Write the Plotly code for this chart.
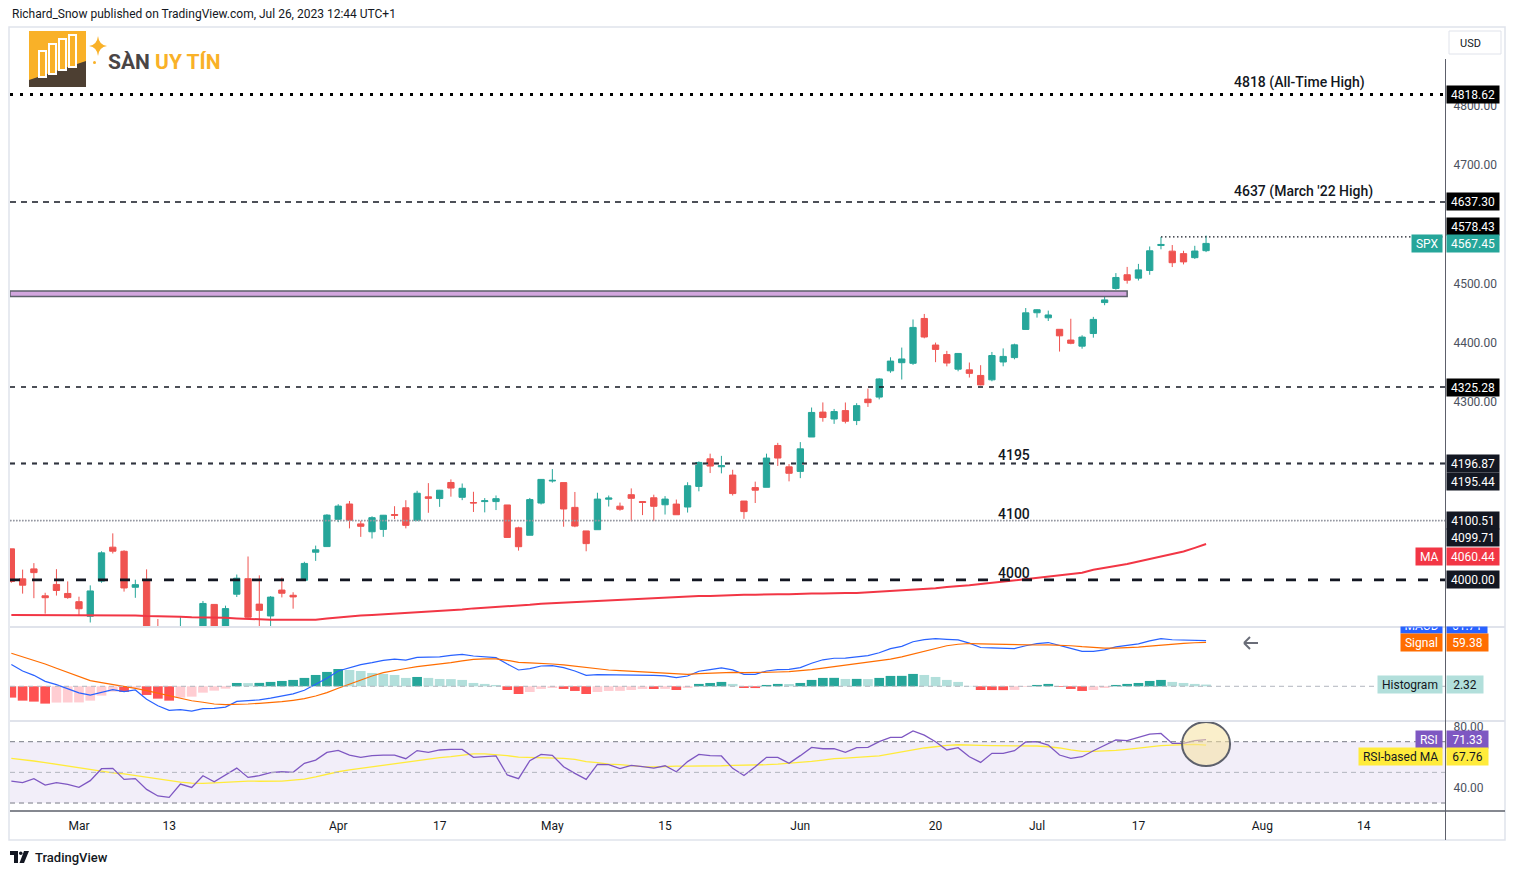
import numpy as np
import pandas as pd
import plotly.graph_objects as go

W, H = 1515, 875
FONT = "Roboto"

# ---------------- data ----------------
holidays = ["2023-04-07", "2023-05-29", "2023-06-19", "2023-07-04"]
dates = pd.bdate_range("2023-02-21", "2023-07-25", freq="C", holidays=holidays)

opens = [4052.4, 4001.8, 4018.6, 3973.2, 3992.4, 3977.2, 3963.3, 3938.7, 3998.0, 4055.2,
         4048.3, 3987.6, 3998.7, 3912.8, 3835.1, 3894.0, 3876.7, 3878.9, 3958.7, 3917.5,
         3975.9, 4002.0, 3959.2, 3939.2, 3982.9, 3974.1, 3999.5, 4046.7, 4056.2, 4102.2,
         4128.0, 4094.5, 4081.2, 4085.2, 4110.3, 4121.7, 4100.0, 4140.1, 4137.2, 4164.3,
         4139.3, 4130.5, 4132.1, 4132.1, 4126.4, 4087.8, 4075.3, 4129.6, 4166.8, 4164.1,
         4122.3, 4082.6, 4084.7, 4136.1, 4124.3, 4143.7, 4132.2, 4138.5, 4126.7, 4127.9,
         4122.9, 4157.7, 4204.2, 4190.8, 4176.8, 4133.0, 4155.7, 4156.2, 4226.7, 4190.7,
         4183.0, 4241.0, 4283.0, 4271.3, 4285.5, 4268.7, 4304.9, 4308.3, 4352.6, 4366.3,
         4365.3, 4440.9, 4396.1, 4380.0, 4355.4, 4354.2, 4344.8, 4337.4, 4367.5, 4374.9,
         4422.4, 4450.5, 4442.0, 4422.6, 4404.5, 4394.2, 4415.5, 4467.7, 4491.5, 4514.6,
         4508.9, 4521.8, 4563.9, 4554.4, 4550.2, 4543.4, 4555.2]
highs = [4052.4, 4017.4, 4028.3, 3978.3, 4018.1, 3997.5, 3971.7, 3990.8, 4048.3, 4078.5,
         4050.0, 4000.4, 4017.8, 3934.1, 3905.1, 3937.3, 3894.3, 3964.5, 3958.9, 3956.6,
         4009.1, 4039.5, 4007.7, 3972.7, 4003.8, 3979.2, 4030.6, 4057.9, 4110.8, 4127.7,
         4133.1, 4099.7, 4107.3, 4109.5, 4124.3, 4134.4, 4150.3, 4163.2, 4151.7, 4169.5,
         4162.6, 4148.6, 4138.0, 4142.4, 4126.4, 4089.7, 4138.2, 4170.1, 4186.9, 4164.1,
         4148.3, 4082.6, 4147.0, 4142.3, 4130.4, 4154.3, 4132.8, 4143.7, 4141.3, 4135.5,
         4164.7, 4199.9, 4212.9, 4209.2, 4185.7, 4133.0, 4165.7, 4212.9, 4231.1, 4195.4,
         4232.4, 4290.7, 4299.3, 4288.3, 4299.2, 4298.0, 4322.6, 4340.1, 4375.4, 4391.8,
         4439.2, 4448.5, 4400.2, 4386.2, 4382.3, 4366.6, 4362.1, 4384.4, 4390.4, 4398.4,
         4458.5, 4456.5, 4454.1, 4422.6, 4440.4, 4412.6, 4443.6, 4488.3, 4517.4, 4527.8,
         4532.9, 4562.3, 4578.4, 4564.7, 4555.0, 4563.4, 4580.6]
lows = [3995.2, 3976.9, 3969.2, 3943.1, 3973.6, 3968.2, 3939.1, 3928.2, 3995.2, 4044.6,
        3980.3, 3969.8, 3908.7, 3846.3, 3808.9, 3873.6, 3838.2, 3864.1, 3901.3, 3916.9,
        3971.2, 3936.2, 3919.1, 3909.2, 3970.5, 3951.5, 3999.5, 4032.1, 4056.2, 4097.4,
        4086.9, 4072.6, 4069.8, 4072.6, 4102.6, 4086.9, 4099.4, 4113.2, 4123.2, 4140.4,
        4134.5, 4114.6, 4113.9, 4117.8, 4071.4, 4049.4, 4075.3, 4127.2, 4164.1, 4089.7,
        4088.9, 4048.3, 4084.7, 4123.8, 4116.7, 4098.9, 4109.3, 4099.1, 4110.3, 4109.9,
        4113.6, 4149.4, 4180.2, 4179.7, 4142.3, 4103.0, 4129.7, 4156.2, 4192.2, 4166.2,
        4171.6, 4241.0, 4266.8, 4263.1, 4263.9, 4261.1, 4291.7, 4304.4, 4349.3, 4337.9,
        4362.6, 4407.4, 4367.2, 4360.1, 4351.8, 4341.3, 4328.1, 4335.0, 4360.2, 4372.0,
        4422.4, 4442.3, 4436.6, 4385.1, 4397.4, 4389.9, 4408.5, 4463.2, 4489.4, 4499.6,
        4504.9, 4514.6, 4557.5, 4527.6, 4532.0, 4541.3, 4552.8]
closes = [3997.3, 3991.1, 4012.3, 3970.0, 3982.2, 3970.2, 3951.4, 3981.4, 4045.6, 4048.4,
          3986.4, 3992.0, 3918.3, 3861.6, 3855.8, 3919.3, 3891.9, 3960.3, 3916.6, 3951.6,
          4002.9, 3937.0, 3948.7, 3971.0, 3977.5, 3971.3, 4027.8, 4050.8, 4109.3, 4124.5,
          4100.6, 4090.4, 4105.0, 4109.1, 4108.9, 4092.0, 4146.2, 4137.6, 4151.3, 4154.9,
          4154.5, 4129.8, 4133.5, 4137.0, 4071.6, 4056.0, 4135.4, 4169.5, 4167.9, 4119.6,
          4090.8, 4061.2, 4136.3, 4138.1, 4119.2, 4137.6, 4130.6, 4124.1, 4136.3, 4109.9,
          4158.8, 4198.1, 4192.0, 4192.6, 4145.6, 4115.2, 4151.3, 4205.5, 4205.5, 4179.8,
          4221.0, 4282.4, 4273.8, 4283.9, 4267.5, 4293.9, 4298.9, 4338.9, 4369.0, 4372.6,
          4425.8, 4409.6, 4388.7, 4365.7, 4381.9, 4348.3, 4328.8, 4378.4, 4376.9, 4396.4,
          4450.4, 4455.6, 4446.8, 4411.6, 4399.0, 4409.5, 4439.3, 4472.2, 4510.0, 4505.4,
          4522.8, 4555.0, 4565.7, 4534.9, 4536.3, 4554.6, 4567.45]
ma200 = [3941, 3941, 3941, 3941, 3941, 3940, 3940, 3940, 3940, 3940,
         3940, 3940, 3939, 3939, 3938, 3938, 3937, 3937, 3936, 3936,
         3935, 3934, 3934, 3933, 3933, 3933, 3933, 3933, 3935, 3937,
         3938, 3940, 3941, 3942, 3944, 3945, 3946, 3947, 3948, 3949,
         3950, 3952, 3953, 3955, 3956, 3957, 3958, 3960, 3961, 3962,
         3963, 3964, 3965, 3966, 3967, 3968, 3969, 3970, 3971, 3971,
         3972, 3973, 3973, 3974, 3974, 3975, 3975, 3976, 3976, 3976,
         3977, 3977, 3977, 3978, 3978, 3978, 3979, 3980, 3981, 3982,
         3983, 3985, 3986, 3988, 3989, 3991, 3993, 3995, 3997, 3999,
         4001, 4003, 4005, 4008, 4010, 4012, 4017, 4020, 4024, 4027,
         4031, 4035, 4039, 4043, 4048, 4054, 4060.44]
macd = [29.3, 20.6, 14.8, 6.7, 2.3, -3.5, -8.8, -11.8, -7.7, -4.5, -7.3, -5.0, -17.6, -26.2,
        -32.5, -31.5, -33.5, -30.2, -29.8, -28.1, -20.4, -19.6, -18.4, -16.1, -13.6, -10.3,
        -5.4, 2.2, 10.8, 20.7, 25.1, 29.2, 31.9, 35.1, 36.8, 35.3, 39.1,
        39.3, 39.7, 41.7, 43.0, 40.9, 40.1, 38.7, 30.1, 22.0, 23.8, 27.4, 27.8, 25.2, 20.7,
        14.8, 15.7, 15.7, 14.9, 15.2, 15.7, 14.7, 14.0, 11.6, 13.9, 20.3, 22.5, 24.8, 22.1,
        16.1, 16.0, 20.7, 22.5, 22.9, 25.2, 31.1, 35.8,
        37.9, 38.1, 40.0, 41.5, 45.3, 50.8, 53.9, 60.2, 63.1, 64.4, 63.4, 62.7, 58.3, 52.4,
        51.8, 51.2, 51.0, 54.8, 57.6, 59.1, 54.7, 51.2, 47.2, 47.3, 49.3, 53.3, 55.2, 57.3,
        61.4, 64.4, 62.9, 62.5, 62.0, 61.71]
signal = [44.6, 40.0, 35.5, 30.1, 24.3, 18.4, 13.0, 7.6, 4.9, 2.7, 0.4, -2.7, -5.9, -9.5,
          -13.1, -16.2, -19.5, -21.6, -23.9, -24.9, -24.9, -23.9, -23.0, -22.0, -20.8, -18.9,
          -16.7, -13.1, -8.6, -2.7, 3.1, 8.5, 13.9, 18.4, 21.5, 24.0, 26.5,
          28.0, 29.8, 32.0, 34.4, 36.4, 36.9, 36.9, 35.1, 32.4, 31.5, 31.0, 30.1, 28.8, 27.0,
          25.2, 23.4, 22.0, 21.1, 20.2, 19.3, 18.4, 17.5, 16.6, 16.2, 17.1, 18.0, 18.9, 18.9,
          18.4, 18.4, 18.9, 19.3, 19.8, 20.7, 22.5, 24.5,
          26.5, 28.2, 30.0, 31.8, 34.0, 36.8, 39.8, 43.5, 47.8, 51.8, 54.8, 56.8, 57.8, 57.4,
          56.9, 56.4, 55.9, 55.7, 55.8, 55.9, 55.6, 54.8, 53.5, 52.3, 51.6, 51.5, 52.0, 52.8,
          54.2, 55.8, 57.0, 58.0, 58.8, 59.38]
hist = [-15.3, -19.4, -20.7, -23.4, -22.0, -21.9, -21.8, -19.4, -12.6, -7.2, -7.7, -2.3,
        -11.7, -16.7, -19.4, -15.3, -14.0, -8.6, -5.9, -3.2, 4.5, 4.3, 4.6, 5.9, 7.2, 8.6,
        11.3, 15.3, 19.4, 23.4, 22.0, 20.7, 18.0, 16.7, 15.3, 11.3, 12.6,
        11.3, 9.9, 9.7, 8.6, 4.5, 3.2, 1.8, -5.0, -10.4, -7.7, -3.6, -2.3, -3.6, -6.3,
        -10.4, -7.7, -6.3, -6.2, -5.0, -3.6, -3.7, -3.5, -5.0, -2.3, 3.2, 4.5, 5.9, 3.2,
        -2.3, -2.4, 1.8, 3.2, 3.1, 4.5, 8.6, 11.3,
        11.4, 9.9, 10.0, 9.7, 11.3, 14.0, 14.1, 16.7, 15.3, 12.6, 8.6, 5.9, 0.5, -5.0,
        -5.1, -5.2, -4.9, -0.9, 1.8, 3.2, -0.9, -3.6, -6.3, -5.0, -2.3, 1.8, 3.2, 4.5,
        7.2, 8.6, 5.9, 4.5, 3.2, 2.32]
rsi = [44.3, 43.3, 45.9, 41.7, 43.3, 42.2, 40.2, 44.6, 52.4, 52.6, 45.4, 45.9, 38.9, 34.6,
       33.7, 42.4, 40.2, 47.8, 43.9, 48.3, 52.8, 46.7, 47.8, 49.8, 50.4, 50.0, 55.9, 58.0,
       63.0, 64.3, 61.3, 59.8, 60.9, 61.3, 61.3, 58.9, 64.2,
       63.0, 64.6, 65.0, 65.0, 59.8, 60.2, 60.7, 48.3, 45.9, 57.6, 61.7, 61.1, 53.7, 49.3,
       45.4, 55.2, 55.0, 52.4, 54.6, 53.7, 52.8, 54.3, 50.4, 57.0, 61.7, 60.9, 60.7, 52.6,
       48.0, 53.7, 59.8, 59.8, 55.9, 60.9, 66.3, 65.4,
       65.4, 63.0, 66.1, 66.3, 70.0, 72.8, 72.8, 77.0, 74.3, 70.0, 64.6, 66.1, 60.2, 56.5,
       62.4, 62.4, 64.1, 69.8, 70.0, 67.8, 61.3, 59.1, 60.2, 64.1, 67.8, 71.1, 70.7, 72.8,
       75.0, 75.4, 68.9, 68.9, 70.7, 71.33]
rsi_ma = [59.1, 58.4, 57.4, 56.4, 55.3, 54.1, 52.8, 51.6, 50.6, 49.7, 49.0, 48.0, 46.8, 45.6,
          44.5, 43.6, 43.0, 42.8, 43.2, 43.7, 44.2, 44.3, 44.2, 44.1, 44.3, 44.9, 45.6, 47.0,
          48.7, 50.4, 51.6, 52.6, 53.7, 54.6, 55.6, 56.6, 58.0,
          58.9, 59.6, 60.2, 61.3, 62.0, 62.0, 61.5, 60.9, 60.0, 59.8, 59.8, 59.6, 59.1, 58.5,
          57.0, 56.3, 55.4, 55.0, 54.3, 53.7, 53.5, 53.9, 54.1, 54.1, 54.1, 54.1, 54.3, 54.6,
          54.6, 54.8, 55.0, 55.4, 55.9, 56.5, 57.2, 58.0,
          58.9, 59.3, 59.8, 60.2, 60.7, 62.0, 63.3, 64.6, 65.9, 66.7, 67.6, 68.0, 68.0, 67.6,
          67.4, 67.4, 67.2, 67.2, 67.2, 66.7, 65.9, 64.6, 63.7, 63.7, 63.9, 64.3, 65.0, 65.9,
          66.7, 67.4, 67.8, 68.0, 68.3, 67.76]

tick_dates = ["2023-03-01", "2023-03-13", "2023-04-03", "2023-04-17", "2023-05-01", "2023-05-15",
              "2023-06-01", "2023-06-20", "2023-07-03", "2023-07-17", "2023-08-01", "2023-08-14"]
tick_text = ["Mar", "13", "Apr", "17", "May", "15", "Jun", "20", "Jul", "17", "Aug", "14"]

ath_level = 4818.62
march22_level = 4637.30
recent_high = 4578.43
zone_low, zone_high = 4478.0, 4487.0
level_4325 = 4325.28
level_4195a, level_4195b = 4196.87, 4195.44
level_4100a, level_4100b = 4100.51, 4099.71
level_4000 = 4000.00

price_ticks = [4300, 4400, 4500, 4700, 4800]

# ---------------- helpers ----------------
xi = np.arange(len(dates))
tick_idx = [int(np.busday_count("2023-02-21", d, holidays=holidays)) for d in tick_dates]
idx_of = {d.strftime("%Y-%m-%d"): i for i, d in enumerate(dates)}
XR = [-0.12, 127.2]


def P(x):
    return x / W


def Q(y):
    return 1 - y / H


UP, DN = "#26A69A", "#EF5350"

hist_colors = []
prev = 0.0
for h in hist:
    if h >= 0:
        hist_colors.append("#26A69A" if h > prev else "#B2DFDB")
    else:
        hist_colors.append("#FF5252" if h < prev else "#FFCDD2")
    prev = h

fig = go.Figure()
fig.add_trace(go.Candlestick(
    x=xi, open=opens, high=highs, low=lows, close=closes,
    increasing=dict(line=dict(color=UP, width=1), fillcolor=UP),
    decreasing=dict(line=dict(color=DN, width=1), fillcolor=DN),
    whiskerwidth=0, xaxis="x", yaxis="y", hoverinfo="skip"))
fig.add_trace(go.Scatter(x=xi, y=ma200, mode="lines", line=dict(color="#F23645", width=2),
                         xaxis="x", yaxis="y", hoverinfo="skip"))
fig.add_trace(go.Bar(x=xi, y=hist, marker=dict(color=hist_colors, line=dict(width=0)),
                     width=0.86, xaxis="x2", yaxis="y2", hoverinfo="skip"))
fig.add_trace(go.Scatter(x=xi, y=macd, mode="lines", line=dict(color="#2962FF", width=1.2),
                         xaxis="x2", yaxis="y2", hoverinfo="skip"))
fig.add_trace(go.Scatter(x=xi, y=signal, mode="lines", line=dict(color="#FF6D00", width=1.2),
                         xaxis="x2", yaxis="y2", hoverinfo="skip"))
fig.add_trace(go.Scatter(x=xi, y=rsi_ma, mode="lines", line=dict(color="#FFEB3B", width=1.3),
                         xaxis="x3", yaxis="y3", hoverinfo="skip"))
fig.add_trace(go.Scatter(x=xi, y=rsi, mode="lines", line=dict(color="#7E57C2", width=1.3),
                         xaxis="x3", yaxis="y3", hoverinfo="skip"))

shapes = []


def pline(x0, y0, x1, y1, color, width=1, dash="solid"):
    shapes.append(dict(type="line", xref="paper", yref="paper", x0=P(x0), y0=Q(y0),
                       x1=P(x1), y1=Q(y1), line=dict(color=color, width=width, dash=dash)))


def hline(level, color, width, dash, x0=0, x1=1, xref="x domain", yref="y"):
    shapes.append(dict(type="line", xref=xref, yref=yref, x0=x0, x1=x1, y0=level, y1=level,
                       line=dict(color=color, width=width, dash=dash), layer="above"))


# RSI band + guide lines
shapes.append(dict(type="rect", xref="x3 domain", yref="y3", x0=0, x1=1, y0=30, y1=70,
                   fillcolor="rgba(126,87,194,0.10)", line=dict(width=0), layer="below"))
hline(70, "#787B86", 1, "5px,4px", yref="y3", xref="x3 domain")
hline(50, "#B2B5BE", 1, "5px,4px", yref="y3", xref="x3 domain")
hline(30, "#787B86", 1, "5px,4px", yref="y3", xref="x3 domain")
hline(0, "#B2B5BE", 1, "5px,4px", yref="y2", xref="x2 domain")

# price levels
hline(ath_level, "#000000", 3, "3px,7px")
hline(march22_level, "#131722", 1.3, "6px,5px")
hline(recent_high, "#131722", 1.2, "1.5px,2.5px", x0=idx_of["2023-07-19"], x1=XR[1], xref="x")
shapes.append(dict(type="rect", xref="x", yref="y", x0=XR[0], x1=idx_of["2023-07-14"],
                   y0=zone_low, y1=zone_high, fillcolor="#D2A6DE",
                   line=dict(color="#5D606B", width=1.5), layer="above"))
hline(level_4325, "#131722", 1.3, "5px,6px")
hline(level_4195b, "#8A8D96", 2, "5px,6px")
hline(level_4195a, "#131722", 1.2, "5px,6px")
hline(level_4100a, "#9598A1", 1.2, "1.5px,1.5px")
hline(level_4100b, "#9598A1", 1.2, "1.5px,1.5px")
hline(level_4000, "#131722", 2.6, "10px,12px")

# highlight circle on RSI
shapes.append(dict(type="circle", xref="x3", yref="y3", x0=len(xi) - 1 - 2.13, x1=len(xi) - 1 + 2.13,
                   y0=68.5 - 14.4, y1=68.5 + 14.4, fillcolor="rgba(246,226,160,0.55)",
                   line=dict(color="#5D606B", width=2), layer="above"))

# frame, separators, axis lines
shapes.append(dict(type="rect", xref="paper", yref="paper", x0=P(9), x1=P(1505), y0=Q(840), y1=Q(27),
                   line=dict(color="#E0E3EB", width=1.5), layer="below"))
pline(10, 627, 1505, 627, "#E0E3EB", 2)
pline(10, 721, 1505, 721, "#E0E3EB", 2)
pline(10, 811, 1505, 811, "#5D606B", 1.5)
pline(1445.5, 59, 1445.5, 840, "#5D606B", 1)

# "scroll to realtime" arrow
pline(1244, 643, 1258, 643, "#6A6D78", 2)
pline(1244, 643, 1250, 637, "#6A6D78", 2)
pline(1244, 643, 1250, 649, "#6A6D78", 2)

# USD box
shapes.append(dict(type="rect", xref="paper", yref="paper", x0=P(1449), x1=P(1501), y0=Q(54), y1=Q(31),
                   line=dict(color="#E0E3EB", width=1), fillcolor="white"))


# logo
def path(pts, close=True):
    s = "M " + " L ".join(f"{P(a):.5f},{Q(b):.5f}" for a, b in pts)
    return s + (" Z" if close else "")


shapes.append(dict(type="path", xref="paper", yref="paper",
                   path=path([(29, 31), (86, 31), (86, 87), (29, 87)]),
                   fillcolor="#F9B128", line=dict(width=0)))
shapes.append(dict(type="path", xref="paper", yref="paper",
                   path=path([(29, 80), (86, 61), (86, 87), (29, 87)]),
                   fillcolor="#4D3F32", line=dict(width=0)))
for bx, top, bot in [(39, 51, 77), (49, 44, 74), (59, 39, 70), (69, 35, 67)]:
    shapes.append(dict(type="rect", xref="paper", yref="paper", x0=P(bx), x1=P(bx + 7),
                       y0=Q(bot), y1=Q(top), fillcolor="#F9B128",
                       line=dict(color="white", width=2)))
cx, cy = 98, 46
star = (f"M {P(cx):.5f},{Q(cy-10):.5f} Q {P(cx+1):.5f},{Q(cy-1):.5f} {P(cx+9):.5f},{Q(cy):.5f} "
        f"Q {P(cx+1):.5f},{Q(cy+1):.5f} {P(cx):.5f},{Q(cy+10):.5f} "
        f"Q {P(cx-1):.5f},{Q(cy+1):.5f} {P(cx-9):.5f},{Q(cy):.5f} "
        f"Q {P(cx-1):.5f},{Q(cy-1):.5f} {P(cx):.5f},{Q(cy-10):.5f} Z")
shapes.append(dict(type="path", xref="paper", yref="paper", path=star, fillcolor="#F9B128",
                   line=dict(width=0)))
shapes.append(dict(type="circle", xref="paper", yref="paper", x0=P(93), x1=P(96), y0=Q(64), y1=Q(61),
                   fillcolor="#F9B128", line=dict(width=0)))

# TradingView logo
shapes.append(dict(type="path", xref="paper", yref="paper",
                   path=path([(10, 851), (18, 851), (18, 863), (14, 863), (14, 855), (10, 855)]),
                   fillcolor="#131722", line=dict(width=0)))
shapes.append(dict(type="circle", xref="paper", yref="paper", x0=P(19), x1=P(22.5), y0=Q(855), y1=Q(851.5),
                   fillcolor="#131722", line=dict(width=0)))
shapes.append(dict(type="path", xref="paper", yref="paper",
                   path=path([(24, 851), (29, 851), (24, 863), (19.5, 863)]),
                   fillcolor="#131722", line=dict(width=0)))

ann = []


def txt(x, y, text, size=12, color="#131722", xanchor="left", weight="normal", **kw):
    ann.append(dict(xref="paper", yref="paper", x=P(x), y=Q(y), text=text, showarrow=False,
                    xanchor=xanchor, yanchor="middle",
                    font=dict(family=FONT, size=size, color=color, weight=weight), **kw))


txt(10, 14, "Richard_Snow published on TradingView.com, Jul 26, 2023 12:44 UTC+1", 12, "#131722")
txt(106, 62, "<span style='color:#4A4545'>SÀN</span> <span style='color:#F9B128'>UY TÍN</span>",
    21, "#4A4545", weight="bold")
txt(1458, 43, "USD", 11, "#131722")
txt(33, 857, "TradingView", 13, "#131722", weight=500)


def level_text(xidx, level, text, yshift):
    ann.append(dict(xref="x", yref="y", x=xidx, y=level, text=text, showarrow=False,
                    xanchor="left", yanchor="middle", yshift=yshift,
                    font=dict(family=FONT, size=14, color="#131722", weight=500)))


level_text(108.3, ath_level, "4818 (All-Time High)", 12)
level_text(108.3, march22_level, "4637 (March '22 High)", 10)
level_text(87.4, level_4195a, "4195", 8)
level_text(87.4, level_4100a, "4100", 6)
level_text(87.4, level_4000, "4000", 7)


def axbox(yref, y, text, bg, fg="#FFFFFF", yshift=0, width=50, **kw):
    d = dict(xref="paper", x=P(1446), xanchor="left", yref=yref, y=y, yanchor="middle",
             text=text, showarrow=False, bgcolor=bg, yshift=yshift, width=width, height=15,
             borderpad=1, align="center", font=dict(family=FONT, size=12, color=fg))
    d.update(kw)
    ann.append(d)


def tag(yref, y, text, bg, fg="#FFFFFF", yshift=0, **kw):
    d = dict(xref="paper", x=P(1443), xanchor="right", yref=yref, y=y, yanchor="middle",
             text=text, showarrow=False, bgcolor=bg, yshift=yshift, height=15, borderpad=1,
             font=dict(family=FONT, size=12, color=fg))
    d.update(kw)
    ann.append(d)


axbox("y", ath_level, f"{ath_level:.2f}", "#000000")
axbox("y", march22_level, f"{march22_level:.2f}", "#000000")
axbox("y", recent_high, f"{recent_high:.2f}", "#000000", yshift=10)
axbox("y", closes[-1], f"{closes[-1]:.2f}", UP)
tag("y", closes[-1], " SPX ", UP)
axbox("y", level_4325, f"{level_4325:.2f}", "#000000")
axbox("y", level_4195a, f"{level_4195a:.2f}", "#131722")
axbox("y", level_4195b, f"{level_4195b:.2f}", "#131722", yshift=-17)
axbox("y", level_4100a, f"{level_4100a:.2f}", "#131722")
axbox("y", level_4100b, f"{level_4100b:.2f}", "#131722", yshift=-17)
axbox("y", ma200[-1], f"{ma200[-1]:.2f}", "#F23645", yshift=-12)
tag("y", ma200[-1], " MA ", "#F23645", yshift=-12)
axbox("y", level_4000, f"{level_4000:.2f}", "#131722")

# MACD pane labels (MACD label clipped by the pane edge)
axbox("y2", macd[-1], f"{macd[-1]:.2f}", "#2962FF", yshift=11, width=39, height=5,
      valign="bottom", borderpad=0.5)
tag("y2", macd[-1], " MACD ", "#2962FF", yshift=11, height=5, valign="bottom", borderpad=0.5)
axbox("y2", signal[-1], f"{signal[-1]:.2f}", "#FF6D00", width=39)
tag("y2", signal[-1], " Signal ", "#FF6D00")
axbox("y2", hist[-1], f"{hist[-1]:.2f}", "#B2DFDB", fg="#131722", width=34)
tag("y2", hist[-1], " Histogram ", "#B2DFDB", fg="#131722")
# RSI pane labels
axbox("y3", rsi[-1], f"{rsi[-1]:.2f}", "#7E57C2", width=39)
tag("y3", rsi[-1], " RSI ", "#7E57C2")
axbox("y3", rsi_ma[-1], f"{rsi_ma[-1]:.2f}", "#FFEB3B", fg="#131722", width=39, yshift=-11)
tag("y3", rsi_ma[-1], " RSI-based MA ", "#FFEB3B", fg="#131722", yshift=-11)

axis_common = dict(showgrid=False, zeroline=False, showline=False)
yfont = dict(family=FONT, size=12, color="#4C525E")

fig.update_layout(
    width=W, height=H, margin=dict(l=0, r=0, t=0, b=0),
    paper_bgcolor="white", plot_bgcolor="white", showlegend=False, hovermode=False,
    boxgap=0.2,
    xaxis=dict(domain=[P(10), P(1445)], range=XR, anchor="y", showticklabels=False,
               rangeslider=dict(visible=False), **axis_common),
    xaxis2=dict(domain=[P(10), P(1445)], range=XR, matches="x", anchor="y2",
                showticklabels=False, **axis_common),
    xaxis3=dict(domain=[P(10), P(1445)], range=XR, matches="x", anchor="y3",
                tickmode="array", tickvals=tick_idx, ticktext=tick_text,
                ticks="outside", ticklen=5, tickcolor="rgba(0,0,0,0)",
                tickfont=dict(family=FONT, size=12, color="#131722"), **axis_common),
    yaxis=dict(domain=[Q(627), Q(28)], range=[3920.6, 4930.7], side="right", anchor="x",
               tickmode="array", tickvals=price_ticks, ticktext=[f"{v:.2f}" for v in price_ticks],
               ticks="outside", ticklen=5, tickcolor="rgba(0,0,0,0)", tickfont=yfont, **axis_common),
    yaxis2=dict(domain=[Q(721), Q(627)], range=[-46.9, 80.1], side="right", anchor="x2",
                showticklabels=False, **axis_common),
    yaxis3=dict(domain=[Q(810), Q(721)], range=[25.45, 83.5], side="right", anchor="x3",
                tickmode="array", tickvals=[40, 80], ticktext=["40.00", "80.00"],
                ticks="outside", ticklen=5, tickcolor="rgba(0,0,0,0)", tickfont=yfont, **axis_common),
    shapes=shapes, annotations=ann,
)

fig.write_html("out.html", include_plotlyjs=True, full_html=True,
               config={"displayModeBar": False, "staticPlot": True},
               post_script="document.body.style.margin='0';")
